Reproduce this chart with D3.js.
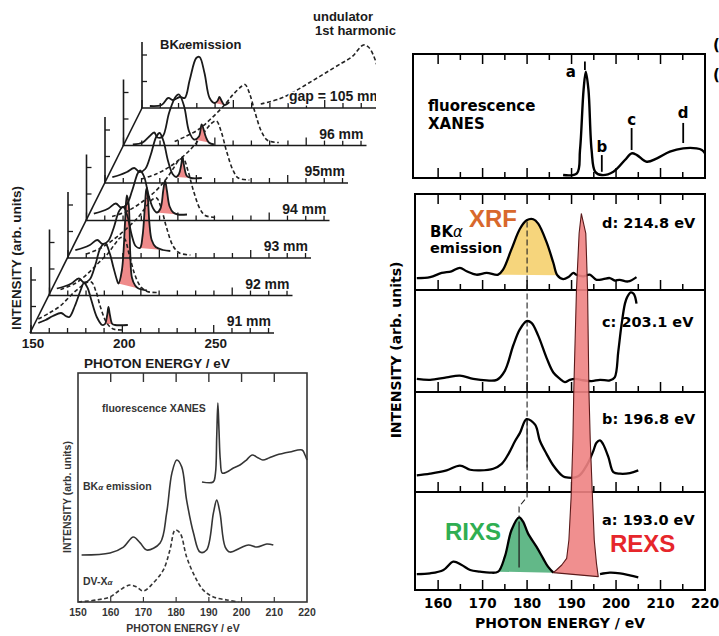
<!DOCTYPE html>
<html>
<head>
<meta charset="utf-8">
<script src="https://cdn.jsdelivr.net/npm/d3@7/dist/d3.min.js"></script>
<style>
  body { margin: 0; background: #fff; }
  svg { display: block; }
  text { font-family: "Liberation Sans", Arial, sans-serif; font-weight: bold; }
  text.dj { font-family: "DejaVu Sans", sans-serif; }
</style>
</head>
<body>
<svg id="fig" width="719" height="636"></svg>
<script>
// ---------- left: BK-alpha emission vs undulator gap ----------
var gapLabels = ["91 mm", "92 mm", "93 mm", "94 mm", "95mm", "96 mm", "gap = 105 mm"];
// [photon energy (eV), intensity (arb.)]
var bkaGap = [
  [[154,10],[158,13],[162,17],[166.5,20],[169,17],[171,16],[174,27],[177,42],[179,50],[181,45],[183,33],[186,16],[189,8],[190.5,9],[191.7,18],[192.4,26],[193.2,18],[194.5,9],[196,8],[203,8]],
  [[154,7],[158,9],[162,12],[166,17],[169,13],[172,16],[175,30],[178,48],[180.6,52],[183,42],[185,28],[187,15],[187.7,12],[189.6,25],[191.4,75],[192.3,100],[193.3,92],[194.2,42],[195.1,18],[196.9,10],[198.7,7],[203.3,5]],
  [[154,8],[158,10],[162,13],[166,18],[169,14],[172,17],[175,30],[178,47],[180.3,51],[182.5,42],[185,22],[187,12],[189.4,10],[190.8,22],[192.1,52],[192.8,68],[193.2,70],[193.8,58],[194.6,34],[195.8,18],[198,11],[202,8],[206,7]],
  [[154,7],[158,9],[162,12],[166,17],[169,13],[172,16],[175,30],[178,47],[179.3,50],[181.5,44],[184,25],[186.5,12],[188.5,8],[190.5,12],[192,30],[193,40],[194,30],[195.5,14],[197.5,8],[200,6],[205,6]],
  [[154,6],[158,8],[162,11],[166,15],[169,11],[172,14],[175,28],[178,46],[179.9,50],[182,42],[184.5,22],[187,9],[189,6],[190.5,9],[191.7,18],[192.4,26],[193.3,17],[194.8,7],[197,5],[203,5]],
  [[155.1,1],[160.5,3],[164.1,9],[166.8,13],[168.6,8],[171.4,9],[175,33],[178.6,49],[180.4,51],[183.2,39],[185.9,14],[188.6,6],[191.3,9],[192.8,21],[195,9],[196.7,3],[199.5,1]],
  [[154.3,2],[160.7,3],[164.3,10],[167,8],[170.7,11],[173.4,10],[176.1,28],[179.7,50],[181.5,51],[184.2,35],[187,10],[189.7,5],[191.3,7],[192.4,11],[193.6,7],[195.1,3],[197.8,6]]
];
var elasticRange = [[190.5,194.5],[187.7,198.7],[189.4,202],[188.5,200],[189,197],[188.6,196.7],[189.7,195.1]];
var undulatorGap = [
  [[154,14],[160,20],[166,27],[172,38],[177,46],[180,50],[183,51],[185.5,42],[188,26],[191.5,10],[195,4],[201,3]],
  [[156,6],[164,12],[171,22],[177,33],[182,42],[186,52],[189,58],[191,57],[193.5,42],[196.5,22],[199.5,10],[203.5,4],[209,3]],
  [[160,4],[168,10],[176,20],[183,31],[189,42],[193,52],[196.5,59],[198.5,60],[201,50],[204,30],[207.5,12],[211,5],[217,3]],
  [[164,4],[172,9],[180,18],[187,28],[193,40],[197.5,52],[201,61],[203,62],[205.5,50],[208.5,30],[212,12],[215,5],[221,3]],
  [[170,4],[178,9],[186,17],[193,27],[199,38],[204,50],[208.5,60],[211,62],[213.5,52],[216.5,32],[220,13],[223,5],[229,3]],
  [[178,4],[184,9],[191,16],[198,27],[205,40],[210,51],[214.5,59],[216.5,61],[219,52],[222,33],[225.5,14],[229,5],[235,3]],
  [[215,4],[225,9],[233,16],[241.3,25],[250.4,35],[259.4,45],[264.8,51],[271.2,63],[273.9,61],[276.6,53],[279,40]]
];
var wfTickLabels = [150, 200, 250];

// ---------- bottom left: XANES / emission / DV-Xa ----------
var oldTicks = [150, 160, 170, 180, 190, 200, 210, 220];
var xanesOld = [[187.9,52.4],[191.3,52.4],[192.0,56],[192.4,72],[192.75,86.9],[193.1,75],[193.5,62],[194.1,56.3],[195.5,56.8],[197.5,58.5],[199.5,59.8],[201.5,62],[203.2,64.2],[205,63],[206.5,62],[208.5,63],[210.7,64.2],[214.7,65.5],[218.5,66.4],[219.4,64.2],[220,62]];
var bkaOld = [[151.1,20.5],[159.8,21.4],[163.9,24.0],[166.9,28.4],[169.0,25.8],[171.0,22.7],[175.1,25.8],[177.1,38.9],[178.7,56.3],[180.2,62.0],[181.7,59.0],[183.2,44.5],[185.3,30.1],[187.3,21.8],[189.3,22.7],[191.4,38.9],[192.4,44.5],[193.4,38.9],[195.0,24.0],[196.5,21.8],[199.6,23.6],[202.1,24.9],[204.7,24.0],[207.7,25.3],[209.7,24.9]];
var dvxa = [[150.1,0],[155.7,0.9],[159.8,2.2],[162.8,5.2],[165.9,7.4],[167.9,6.6],[170.0,4.8],[173.0,8.3],[176.1,14.0],[178.1,22.7],[179.7,31.4],[181.2,30.1],[183.2,19.7],[185.8,10.9],[188.3,5.2],[191.4,2.2],[195.5,0.9],[199.0,0]];

// ---------- right: fluorescence XANES and excitation-energy series ----------
var energyTicks = [160, 170, 180, 190, 200, 210, 220];
var xanesTop = [[188.1,2.4],[191.2,3.8],[191.9,22.6],[192.7,71.0],[193.2,85.7],[193.8,71.0],[194.5,22.6],[195.3,5.1],[196.8,2.4],[199.4,5.1],[202.0,14.5],[203.5,19.9],[204.7,18.5],[206.9,13.1],[209.2,15.9],[212.1,21.2],[215.1,23.9],[218.1,23.9],[219.3,22.6],[220.0,19.9]];
var xanesMarks = [["a",193.0],["b",196.8],["c",203.5],["d",215.1]];
var excLabels = ["d: 214.8 eV", "c: 203.1 eV", "b: 196.8 eV", "a: 193.0 eV"];
var specD = [[155.2,12.2],[158.2,13.2],[160.8,17.4],[163.0,19.1],[164.9,22.6],[166.4,19.1],[168.6,15.6],[170.9,17.4],[173.5,15.6],[174.6,20.8],[176.5,41.7],[178.4,62.5],[179.9,71.1],[181.4,72.2],[182.5,67.7],[184.4,48.6],[185.9,27.8],[186.8,15.0],[188.1,11.1],[189.3,13.2],[190.4,17.4],[191.1,15.6],[192.6,14],[194.1,15.6],[195.6,10.4],[197.1,11.1],[198.6,12.2],[199.7,9.7],[200.8,10.4],[202.7,8.7],[204.6,13.2]];
var specC = [[155.2,13.4],[158.2,12.4],[161.9,15.0],[164.9,16.7],[167.9,13.4],[170.9,11.8],[173.2,12.4],[175.0,21.6],[176.9,47.7],[178.4,64.1],[179.9,72.3],[181.0,70.6],[182.5,57.5],[184.4,34.6],[185.9,19.9],[187.4,13.4],[188.5,10.1],[189.6,12.4],[190.8,13.4],[192.6,12],[194.5,11.1],[196.4,12.4],[198.6,11.8],[199.7,15.0],[200.5,41.2],[201.2,67.4],[202.0,90.2],[202.5,96.8],[203.3,101.7],[204.0,100],[204.6,90.2]];
var specB = [[155.2,17],[158.2,18.7],[161.9,22],[164.9,27],[167.2,22.7],[169.4,22],[172.4,23.7],[174.3,28.7],[175.8,38.7],[177.3,52],[178.4,60.3],[179.9,74.3],[181.8,68.7],[182.9,52],[184.4,38.7],[185.9,27],[187.8,17],[188.5,15.3],[191.5,16],[193.5,28],[194.9,42],[195.6,50.3],[196.4,52.7],[197.1,48.7],[198.3,35.3],[199.4,20.3],[200.9,18.7],[203.1,19.3],[205.0,22]];
var specA = [[155.2,16.3],[158.2,17.0],[161.2,20.4],[163.4,28.9],[165.3,25.5],[167.2,20.4],[169.4,18.7],[171.6,17.7],[173.5,18.7],[175.0,34.0],[176.5,61.2],[178.2,74.2],[179.1,69.7],[180.2,57.8],[182.1,44.2],[183.6,32.3],[184.7,23.8],[185.9,17.7]];
var specAHigh = [[196.4,16.3],[198.6,17.7],[200.9,17.0],[203.1,15.0],[205.0,13.0]];
var rexsPeak = [[185.9,17.7],[186.6,20.4],[187.8,25.5],[188.9,32.3],[189.4,51.0],[189.9,94.9],[190.3,153],[190.5,204],[191.1,306],[191.7,364],[192.2,384],[193.2,364],[193.6,306],[193.9,204],[194.2,153],[194.7,95],[195.1,51],[195.6,27.2],[196.0,13.6]];
var xrfRange = [173.5, 186.8];
var rixsRange = [173.5, 185.9];

var svg = d3.select("#fig");
var defs = svg.append("defs");
defs.append("clipPath").attr("id", "wfclip")
  .append("rect").attr("x", 0).attr("y", 0).attr("width", 376).attr("height", 380);

function inRange(pts, r) {
  return pts.filter(function (p) { return p[0] >= r[0] && p[0] <= r[1]; });
}

// ===== waterfall =====
var wfX = d3.scaleLinear().domain([150, 283]).range([0, 243]);
var wfY = d3.scaleLinear().domain([0, 100]).range([0, -100]);
var wfLine = d3.line()
  .x(function (d) { return wfX(d[0]); })
  .y(function (d) { return wfY(d[1]); })
  .curve(d3.curveCatmullRom.alpha(0.5));
function wfOrigin(k) { return [31 + 18.5 * k, 333 - 37.5 * k]; }

var wf = svg.append("g").attr("clip-path", "url(#wfclip)");
var ink = "#1a1a1a";

wf.append("line")
  .attr("x1", wfOrigin(0)[0] - 1).attr("y1", wfOrigin(0)[1])
  .attr("x2", wfOrigin(6)[0]).attr("y2", wfOrigin(6)[1])
  .attr("stroke", ink).attr("stroke-width", 1.6);

gapLabels.forEach(function (lab, k) {
  var o = wfOrigin(k);
  var g = wf.append("g").attr("transform", "translate(" + o[0] + "," + o[1] + ")");

  g.append("line").attr("x1", wfX(150) - 1).attr("x2", wfX(283)).attr("y1", 0).attr("y2", 0)
    .attr("stroke", ink).attr("stroke-width", 1.7);
  g.selectAll(".xt").data(wfX.ticks(14)).enter().append("line")
    .attr("x1", function (d) { return wfX(d); }).attr("x2", function (d) { return wfX(d); })
    .attr("y1", 0).attr("y2", function (d) { return d % 50 === 0 ? -8 : -5; })
    .attr("stroke", ink).attr("stroke-width", 1.3);

  g.append("line").attr("x1", 0).attr("x2", 0).attr("y1", 0).attr("y2", wfY(66))
    .attr("stroke", ink).attr("stroke-width", 1.6);
  [26.5, 53].forEach(function (t) {
    g.append("line").attr("x1", 0).attr("x2", 5).attr("y1", wfY(t)).attr("y2", wfY(t))
      .attr("stroke", ink).attr("stroke-width", 1.3);
  });

  g.append("path").attr("d", wfLine(inRange(bkaGap[k], elasticRange[k])) + "Z")
    .attr("fill", "#ef8a8a").attr("stroke", "none");

  g.append("path").attr("d", wfLine(undulatorGap[k]))
    .attr("fill", "none").attr("stroke", "#222").attr("stroke-width", 1.6)
    .attr("stroke-dasharray", "4,2.5");

  g.append("path").attr("d", wfLine(bkaGap[k]))
    .attr("fill", "none").attr("stroke", ink).attr("stroke-width", 1.8);

  g.append("text").attr("x", 240).attr("y", -7).attr("text-anchor", "end")
    .attr("font-size", 14).attr("fill", ink)
    .attr("stroke", "#fff").attr("stroke-width", 3).attr("paint-order", "stroke")
    .text(lab);
});

svg.selectAll(".wfl").data(wfTickLabels).enter().append("text")
  .attr("x", function (d) { return wfOrigin(0)[0] + wfX(d) + 2; }).attr("y", 348)
  .attr("text-anchor", "middle").attr("font-size", 13.5).attr("fill", ink)
  .text(function (d) { return d; });
svg.append("text").attr("x", 157).attr("y", 368).attr("text-anchor", "middle")
  .attr("font-size", 13.5).attr("fill", ink).text("PHOTON ENERGY / eV");
svg.append("text").attr("transform", "translate(21,258) rotate(-90)").attr("text-anchor", "middle")
  .attr("font-size", 13.5).attr("fill", ink).text("INTENSITY (arb. units)");
var bk1 = svg.append("text").attr("x", 160).attr("y", 49).attr("font-size", 13).attr("fill", ink);
bk1.append("tspan").text("BK");
bk1.append("tspan").attr("font-size", 10).attr("font-style", "italic").text("α");
bk1.append("tspan").text("emission");
svg.append("text").attr("x", 313).attr("y", 21).attr("font-size", 13).attr("fill", ink).text("undulator");
svg.append("text").attr("x", 315).attr("y", 35).attr("font-size", 13).attr("fill", ink).text("1st harmonic");

// ===== bottom-left comparison panel =====
var oX = d3.scaleLinear().domain([150, 220]).range([78, 307]);
var oY = d3.scaleLinear().domain([0, 100]).range([602, 373]);
var oLine = d3.line()
  .x(function (d) { return oX(d[0]); })
  .y(function (d) { return oY(d[1]); })
  .curve(d3.curveCatmullRom.alpha(0.5));
var gray = "#353535";
var og = svg.append("g");
og.append("rect").attr("x", oX(150)).attr("y", oY(100))
  .attr("width", oX(220) - oX(150)).attr("height", oY(0) - oY(100))
  .attr("fill", "none").attr("stroke", gray).attr("stroke-width", 1.6);
og.selectAll(".tt").data(oldTicks.slice(1, -1)).enter().append("line")
  .attr("x1", function (d) { return oX(d); }).attr("x2", function (d) { return oX(d); })
  .attr("y1", oY(100)).attr("y2", oY(100) + 9)
  .attr("stroke", gray).attr("stroke-width", 1.4);
og.selectAll(".bt").data(oldTicks.slice(1, -1)).enter().append("line")
  .attr("x1", function (d) { return oX(d); }).attr("x2", function (d) { return oX(d); })
  .attr("y1", oY(0)).attr("y2", oY(0) - 5)
  .attr("stroke", gray).attr("stroke-width", 1.2);
og.selectAll(".tl").data(oldTicks).enter().append("text")
  .attr("x", function (d) { return oX(d); }).attr("y", 616)
  .attr("text-anchor", "middle").attr("font-size", 10.5).attr("fill", gray)
  .text(function (d) { return d; });
og.append("text").attr("x", 183).attr("y", 632).attr("text-anchor", "middle")
  .attr("font-size", 10.5).attr("fill", gray).text("PHOTON ENERGY / eV");
og.append("text").attr("transform", "translate(71,497) rotate(-90)").attr("text-anchor", "middle")
  .attr("font-size", 10.5).attr("fill", gray).text("INTENSITY (arb. units)");
og.append("path").attr("d", oLine(xanesOld)).attr("fill", "none").attr("stroke", gray).attr("stroke-width", 1.6);
og.append("path").attr("d", oLine(bkaOld)).attr("fill", "none").attr("stroke", gray).attr("stroke-width", 1.6);
og.append("path").attr("d", oLine(dvxa)).attr("fill", "none").attr("stroke", gray).attr("stroke-width", 1.6)
  .attr("stroke-dasharray", "4,2.5");
og.append("text").attr("x", 102).attr("y", 412).attr("font-size", 10.5).attr("fill", gray).text("fluorescence XANES");
var bk2 = og.append("text").attr("x", 83).attr("y", 490).attr("font-size", 10.5).attr("fill", gray);
bk2.append("tspan").text("BK");
bk2.append("tspan").attr("font-size", 8).attr("font-style", "italic").text("α");
bk2.append("tspan").text(" emission");
var dv = og.append("text").attr("x", 83).attr("y", 585).attr("font-size", 10.5).attr("fill", gray);
dv.append("tspan").text("DV-X");
dv.append("tspan").attr("font-size", 8).attr("font-style", "italic").text("α");

// ===== right: XANES + emission series =====
var rX = d3.scaleLinear().domain([154.8, 220]).range([415, 705]);
var minorTicks = rX.ticks(13).filter(function (d) { return d > 156 && d < 219; });
function rLine(y, curve) {
  return d3.line()
    .x(function (d) { return rX(d[0]); })
    .y(function (d) { return y(d[1]); })
    .curve(curve || d3.curveCatmullRom.alpha(0.5));
}
function tickRow(g, yPos, dir) {
  g.selectAll(null).data(minorTicks).enter().append("line")
    .attr("x1", function (d) { return rX(d); }).attr("x2", function (d) { return rX(d); })
    .attr("y1", yPos)
    .attr("y2", function (d) { return yPos + dir * (d % 10 === 0 ? 10 : 6); })
    .attr("stroke", "#000").attr("stroke-width", 1.5);
}

var rg = svg.append("g");

// top XANES panel
var yTop = d3.scaleLinear().domain([0, 100]).range([178, 54]);
rg.append("rect").attr("x", 413).attr("y", yTop(100)).attr("width", rX(220) - 413).attr("height", yTop(0) - yTop(100))
  .attr("fill", "none").attr("stroke", "#000").attr("stroke-width", 2);
tickRow(rg, yTop(100), 1);
tickRow(rg, yTop(0), -1);
rg.append("path").attr("d", rLine(yTop)(xanesTop)).attr("fill", "none").attr("stroke", "#000").attr("stroke-width", 2.4);
var markSpan = { a: [87, 94], b: [5, 18.5], c: [22.6, 40.3], d: [28.2, 44.4] };
var markLab = { a: [-14, 77], b: [0, 152], c: [0, 125], d: [0, 118] };
xanesMarks.forEach(function (m) {
  var s = markSpan[m[0]];
  rg.append("line").attr("x1", rX(m[1])).attr("x2", rX(m[1])).attr("y1", yTop(s[0])).attr("y2", yTop(s[1]))
    .attr("stroke", "#000").attr("stroke-width", 1.8);
  rg.append("text").attr("class", "dj").attr("x", rX(m[1]) + markLab[m[0]][0]).attr("y", markLab[m[0]][1])
    .attr("text-anchor", "middle").attr("font-size", 15).text(m[0]);
});
rg.append("text").attr("class", "dj").attr("x", 428).attr("y", 111).attr("font-size", 15).text("fluorescence");
rg.append("text").attr("class", "dj").attr("x", 428).attr("y", 129).attr("font-size", 15).text("XANES");

// lower stacked panels
var panels = { d: [290, 194], c: [392, 290], b: [492, 392], a: [590, 492] };
var py = {};
Object.keys(panels).forEach(function (k) {
  py[k] = d3.scaleLinear().domain([0, 100]).range([panels[k][0], panels[k][0] - 98]);
});
rg.append("rect").attr("x", 415).attr("y", 194).attr("width", rX(220) - 415).attr("height", 590 - 194)
  .attr("fill", "none").attr("stroke", "#000").attr("stroke-width", 2);
tickRow(rg, 194, 1);
["d", "c", "b", "a"].forEach(function (k) {
  var yb = panels[k][0];
  if (k !== "a") {
    rg.append("line").attr("x1", 415).attr("x2", rX(220)).attr("y1", yb).attr("y2", yb)
      .attr("stroke", "#000").attr("stroke-width", 2);
  }
  tickRow(rg, yb, -1);
});

// fills
rg.append("path").attr("d", rLine(py.d)(inRange(specD, xrfRange)) + "Z").attr("fill", "#f6d57c").attr("stroke", "none");
rg.append("path").attr("d", rLine(py.a)(inRange(specA, rixsRange)) + "Z").attr("fill", "#62b888").attr("stroke", "none");

// 180 eV guide
var guide = d3.line().x(function (d) { return rX(d[0]); }).y(function (d) { return py[d[1]](d[2]); });
rg.append("path").attr("d", guide([[180, "d", 70], [180, "b", 0], [180, "a", 95], [178.2, "a", 85], [178.2, "a", 75]]))
  .attr("fill", "none").attr("stroke", "#222").attr("stroke-width", 1.1).attr("stroke-dasharray", "6,3");
rg.append("path").attr("d", guide([[180, "b", 74], [180, "b", 25]]))
  .attr("fill", "none").attr("stroke", "#222").attr("stroke-width", 1.1);
rg.append("path").attr("d", guide([[178.2, "a", 70], [178.2, "a", 23]]))
  .attr("fill", "none").attr("stroke", "#222").attr("stroke-width", 1.3);

// curves
[["d", specD], ["c", specC], ["b", specB], ["a", specA], ["a", specAHigh]].forEach(function (s) {
  rg.append("path").attr("d", rLine(py[s[0]])(s[1])).attr("fill", "none")
    .attr("stroke", "#000").attr("stroke-width", 2.3).attr("stroke-linejoin", "round");
});

// REXS elastic peak
rg.append("path").attr("d", rLine(py.a, d3.curveLinear)(rexsPeak) + "Z")
  .attr("fill", "#ee8383").attr("fill-opacity", 0.9)
  .attr("stroke", "#5a1a1a").attr("stroke-width", 1.1).attr("stroke-linejoin", "round");

// labels
var excY = [228, 327, 424, 525];
excLabels.forEach(function (t, i) {
  rg.append("text").attr("class", "dj").attr("x", 602).attr("y", excY[i]).attr("font-size", 14.5).text(t);
});
var bk3 = rg.append("text").attr("class", "dj").attr("x", 430).attr("y", 237).attr("font-size", 15);
bk3.append("tspan").text("BK");
bk3.append("tspan").attr("font-style", "italic").attr("font-weight", "normal").text("α");
rg.append("text").attr("class", "dj").attr("x", 430).attr("y", 253).attr("font-size", 14.5).text("emission");
rg.append("text").attr("x", 469).attr("y", 227).attr("font-size", 24).attr("fill", "#d8682c").text("XRF");
rg.append("text").attr("x", 445).attr("y", 540).attr("font-size", 24).attr("fill", "#2fae52").text("RIXS");
rg.append("text").attr("x", 610).attr("y", 552).attr("font-size", 24).attr("fill", "#e6262b").text("REXS");

rg.selectAll(".rtl").data(energyTicks).enter().append("text").attr("class", "dj")
  .attr("x", function (d) { return rX(d); }).attr("y", 608).attr("text-anchor", "middle")
  .attr("font-size", 13.5).text(function (d) { return d; });
rg.append("text").attr("class", "dj").attr("x", 560).attr("y", 628).attr("text-anchor", "middle")
  .attr("font-size", 14).text("PHOTON ENERGY / eV");
rg.append("text").attr("class", "dj").attr("transform", "translate(401,350) rotate(-90)")
  .attr("text-anchor", "middle").attr("font-size", 14).text("INTENSITY (arb. units)");

// cut-off glyphs at the right edge
rg.append("text").attr("class", "dj").attr("x", 713).attr("y", 50).attr("font-size", 15).text("(");
rg.append("text").attr("class", "dj").attr("x", 713).attr("y", 80).attr("font-size", 15).text("(");
</script>
</body>
</html>
